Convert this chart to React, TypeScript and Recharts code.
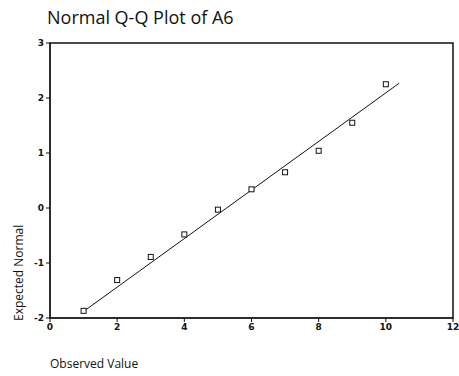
import {
  ReferenceArea,
  ReferenceLine,
  Scatter,
  ScatterChart,
  XAxis,
  YAxis,
} from "recharts";

// observed values and their expected normal scores
const observed = [1, 2, 3, 4, 5, 6, 7, 8, 9, 10];
const expectedNormal = [-1.87, -1.31, -0.89, -0.48, -0.03, 0.34, 0.65, 1.04, 1.55, 2.25];

// fitted reference line end points
const lineX = [1.0, 10.4];
const lineY = [-1.88, 2.27];

const xTicks = [0, 2, 4, 6, 8, 10, 12];
const yTicks = [-2, -1, 0, 1, 2, 3];

const points = observed.map((x, i) => ({ x, y: expectedNormal[i] }));

const ink = "#111";
const tickFont = "DejaVu Sans, Verdana, sans-serif";
const labelFont = "Open Sans, sans-serif";

function SquareDot(props: any) {
  const { cx, cy } = props;
  return (
    <rect x={cx - 2.5} y={cy - 2.5} width={5} height={5} fill="#fff" stroke={ink} strokeWidth={1} />
  );
}

export default function App() {
  return (
    <div
      style={{
        position: "absolute",
        left: 0,
        top: 0,
        width: 459,
        height: 376,
        background: "#fff",
        overflow: "hidden",
      }}
    >
      <div
        style={{
          position: "absolute",
          left: 47,
          top: 5,
          fontFamily: labelFont,
          fontSize: 18,
          color: ink,
          whiteSpace: "nowrap",
        }}
      >
        Normal Q-Q Plot of A6
      </div>
      <div style={{ position: "absolute", left: 0, top: 0 }}>
        <ScatterChart width={459} height={376} margin={{ top: 43, right: 6, bottom: 30, left: 0 }}>
          <XAxis
            type="number"
            dataKey="x"
            domain={[0, 12]}
            ticks={xTicks}
            interval={0}
            stroke={ink}
            tickSize={4}
            tick={{ fill: ink, fontSize: 9, fontWeight: 700, fontFamily: tickFont }}
            height={28}
          />
          <YAxis
            type="number"
            dataKey="y"
            domain={[-2, 3]}
            ticks={yTicks}
            interval={0}
            stroke={ink}
            tickSize={4}
            width={50}
            tick={{ fill: ink, fontSize: 9, fontWeight: 700, fontFamily: tickFont }}
          />
          <ReferenceArea x1={0} x2={12} y1={-2} y2={3} fill="none" stroke={ink} strokeWidth={1.5} />
          <ReferenceLine
            segment={[
              { x: lineX[0], y: lineY[0] },
              { x: lineX[1], y: lineY[1] },
            ]}
            stroke={ink}
            strokeWidth={1}
          />
          <Scatter data={points} shape={<SquareDot />} isAnimationActive={false} />
        </ScatterChart>
      </div>
      <div
        style={{
          position: "absolute",
          left: 50,
          top: 355,
          fontFamily: labelFont,
          fontSize: 12,
          color: ink,
          whiteSpace: "nowrap",
        }}
      >
        Observed Value
      </div>
      <div
        style={{
          position: "absolute",
          left: 10,
          top: 321,
          transformOrigin: "0 0",
          transform: "rotate(-90deg)",
          fontFamily: labelFont,
          fontSize: 12,
          color: ink,
          whiteSpace: "nowrap",
        }}
      >
        Expected Normal
      </div>
    </div>
  );
}
